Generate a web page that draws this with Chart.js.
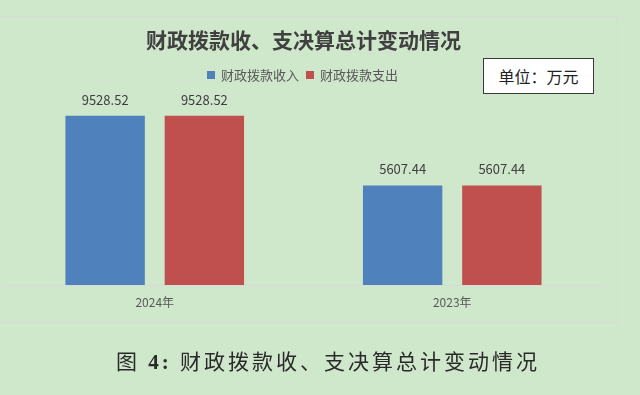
<!DOCTYPE html>
<html>
<head>
<meta charset="utf-8">
<script src="https://cdn.jsdelivr.net/npm/chart.js@4"></script>
<style>
  html, body { margin: 0; padding: 0; background: #cfe7cb; }
  #wrap { position: relative; width: 640px; height: 395px; overflow: hidden; }
  #frame { position: absolute; left: -2px; top: 16px; width: 618px; height: 305px; border: 1px solid #d6dcd4; }
  #chart { position: absolute; left: 0; top: 0; }
  #unit { position: absolute; left: 483px; top: 58px; width: 109px; height: 34px; background: #fff;
          border: 1px solid #3a3a3a; font: 16px "Noto Sans CJK SC", sans-serif; color: #222;
          line-height: 34px; text-align: center; }
  #caption { position: absolute; left: 0; width: 656px; top: 345px; text-align: center;
             font: 21px "Liberation Serif", "Noto Sans CJK SC", serif; color: #2a2a2a; letter-spacing: 3px; }
</style>
</head>
<body>
<div id="wrap">
  <div id="frame"></div>
  <canvas id="chart" width="640" height="395"></canvas>
  <div id="unit">单位：万元</div>
  <div id="caption">图 <b>4:</b> 财政拨款收、支决算总计变动情况</div>
</div>
<script>
// 数据
const anios = ["2024年", "2023年"];
const ingresos = [9528.52, 5607.44];
const gastos = [9528.52, 5607.44];
const nombres = ["财政拨款收入", "财政拨款支出"];
const colores = ["#4f81bd", "#c0504d"];

// etiquetas encima de cada barra
const etiquetas = {
    id: "etiquetas",
    afterDatasetsDraw(chart) {
        const ctx = chart.ctx;
        ctx.save();
        ctx.font = "13px 'Noto Sans CJK SC', sans-serif";
        ctx.fillStyle = "#404040";
        ctx.textAlign = "center";
        ctx.textBaseline = "middle";
        chart.data.datasets.forEach((ds, i) => {
            chart.getDatasetMeta(i).data.forEach((bar, j) => {
                ctx.fillText(ds.data[j].toFixed(2), bar.x, bar.y - 16);
            });
        });
        ctx.restore();
    }
};

// leyenda dibujada a mano, sobre el area del grafico
const leyenda = {
    id: "leyenda",
    afterDraw(chart) {
        const ctx = chart.ctx;
        ctx.save();
        ctx.font = "13px 'Noto Sans CJK SC', sans-serif";
        ctx.textBaseline = "middle";
        const y = 75;
        let x = 207;
        chart.data.datasets.forEach((ds) => {
            ctx.fillStyle = ds.backgroundColor;
            ctx.fillRect(x, y - 4, 8, 8);
            ctx.fillStyle = "#595959";
            ctx.fillText(ds.label, x + 14, y);
            x += 14 + ctx.measureText(ds.label).width + 7;
        });
        ctx.restore();
    }
};

new Chart(document.getElementById("chart").getContext("2d"), {
    type: "bar",
    data: {
        labels: anios,
        datasets: [
            { label: nombres[0], data: ingresos, backgroundColor: colores[0] },
            { label: nombres[1], data: gastos, backgroundColor: colores[1] }
        ]
    },
    options: {
        responsive: false,
        animation: false,
        categoryPercentage: 0.667,
        barPercentage: 0.8,
        layout: { padding: { left: 6, right: 39, top: 0, bottom: 0 } },
        plugins: {
            title: {
                display: true,
                text: "财政拨款收、支决算总计变动情况",
                color: "#404040",
                font: { size: 21, weight: "bold", family: "'Noto Sans CJK SC', sans-serif", lineHeight: 1.2 },
                padding: { top: 27, bottom: 19.8 }
            },
            legend: { display: false },
            tooltip: { enabled: false }
        },
        scales: {
            x: {
                grid: { display: false },
                border: { display: true, color: "#d9d9d9", width: 1 },
                ticks: { color: "#595959", font: { size: 12, family: "'Noto Sans CJK SC', sans-serif" }, padding: 2 },
                afterFit: (s) => { s.height = 110; }
            },
            y: {
                display: false,
                min: 0,
                max: 12000
            }
        }
    },
    plugins: [etiquetas, leyenda]
});
</script>
</body>
</html>
